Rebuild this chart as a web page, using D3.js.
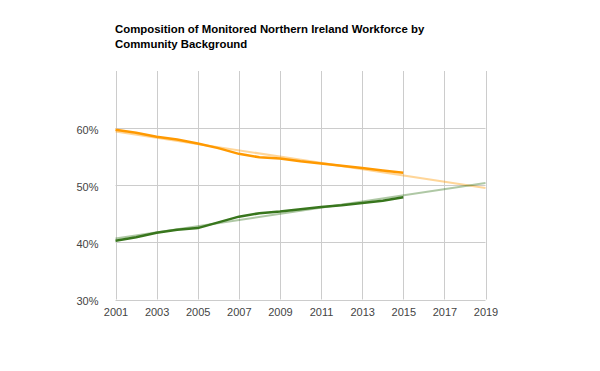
<!DOCTYPE html>
<meta charset="utf-8">
<style>
body { margin: 0; background: #fff; }
text { font-family: "Liberation Sans", Arial, sans-serif; }
.title { font-size: 11.4px; font-weight: bold; fill: #000; }
.tick text { font-size: 11px; fill: #444; }
.grid line { stroke: #ccc; stroke-width: 1; }
</style>
<body>
<script src="https://d3js.org/d3.v7.min.js"></script>
<script>

var width = 600,
    height = 371;

// data
var years = [2001, 2002, 2003, 2004, 2005, 2006, 2007, 2008, 2009, 2010, 2011, 2012, 2013, 2014, 2015];
var protestant = [59.7, 59.2, 58.5, 58.0, 57.3, 56.5, 55.5, 54.9, 54.7, 54.2, 53.8, 53.4, 53.0, 52.6, 52.2];
var catholic = [40.3, 40.9, 41.7, 42.2, 42.5, 43.5, 44.5, 45.1, 45.4, 45.8, 46.2, 46.5, 46.9, 47.3, 47.9];
var xTicks = [2001, 2003, 2005, 2007, 2009, 2011, 2013, 2015, 2017, 2019];
var yTicks = [30, 40, 50, 60];
var titleLines = ["Composition of Monitored Northern Ireland Workforce by", "Community Background"];

var x = d3.scaleLinear()
    .domain([2001, 2019])
    .range([115.5, 485.5]);

var y = d3.scaleLinear()
    .domain([30, 70])
    .range([299.5, 71]);

var svg = d3.select("body").append("svg")
    .attr("width", width)
    .attr("height", height);

svg.append("text")
    .attr("class", "title")
    .attr("x", 115)
    .attr("y", 33)
  .selectAll("tspan")
    .data(titleLines)
  .enter().append("tspan")
    .attr("x", 115)
    .attr("dy", function(d, i) { return i ? 15 : 0; })
    .text(function(d) { return d; });

// grid
var grid = svg.append("g").attr("class", "grid");
grid.selectAll(".v")
    .data(xTicks)
  .enter().append("line")
    .attr("x1", function(d) { return Math.round(x(d)) + 0.5; })
    .attr("x2", function(d) { return Math.round(x(d)) + 0.5; })
    .attr("y1", y(70))
    .attr("y2", y(30));
grid.selectAll(".h")
    .data(yTicks)
  .enter().append("line")
    .attr("x1", x(2001))
    .attr("x2", x(2019))
    .attr("y1", function(d) { return Math.round(y(d)) + 0.5; })
    .attr("y2", function(d) { return Math.round(y(d)) + 0.5; });

// axes (labels only)
var xAxis = svg.append("g")
    .attr("transform", "translate(0," + (y(30) + 6) + ")")
    .call(d3.axisBottom(x).tickValues(xTicks).tickFormat(d3.format("d")).tickSize(0));
xAxis.select(".domain").remove();
xAxis.selectAll("text").attr("dy", "0.71em");

var yAxis = svg.append("g")
    .attr("transform", "translate(" + (x(2001) - 14) + ",1.5)")
    .call(d3.axisLeft(y).tickValues(yTicks).tickFormat(function(d) { return d + "%"; }).tickSize(0));
yAxis.select(".domain").remove();

// linear trendlines (least squares) extended to 2019
function trend(vals) {
  var mx = d3.mean(years), my = d3.mean(vals);
  var num = d3.sum(years, function(t, i) { return (t - mx) * (vals[i] - my); });
  var den = d3.sum(years, function(t) { return (t - mx) * (t - mx); });
  var b = num / den, a = my - b * mx;
  return [[2001, a + b * 2001], [2019, a + b * 2019]];
}

var line = d3.line()
    .x(function(d) { return x(d[0]); })
    .y(function(d) { return y(d[1]); });

svg.append("path")
    .attr("d", line(trend(protestant)))
    .attr("fill", "none")
    .attr("stroke", "#ff9900")
    .attr("stroke-opacity", 0.4)
    .attr("stroke-width", 2);

svg.append("path")
    .attr("d", line(trend(catholic)))
    .attr("fill", "none")
    .attr("stroke", "#38761d")
    .attr("stroke-opacity", 0.4)
    .attr("stroke-width", 2);

svg.append("path")
    .attr("d", line(years.map(function(t, i) { return [t, protestant[i]]; })))
    .attr("fill", "none")
    .attr("stroke", "#ff9900")
    .attr("stroke-width", 2.5);

svg.append("path")
    .attr("d", line(years.map(function(t, i) { return [t, catholic[i]]; })))
    .attr("fill", "none")
    .attr("stroke", "#38761d")
    .attr("stroke-width", 2.5);

</script>
